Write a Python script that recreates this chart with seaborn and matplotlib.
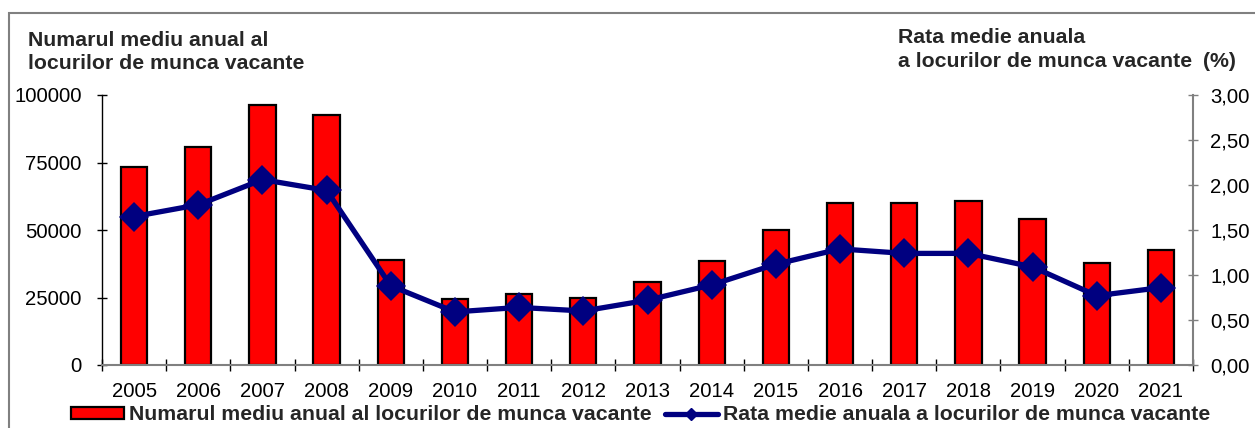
import matplotlib
matplotlib.use("Agg")
import matplotlib.pyplot as plt
from matplotlib.patches import Patch, Rectangle
from matplotlib.lines import Line2D
from matplotlib.ticker import FuncFormatter, FixedLocator
import seaborn as sns

years = [str(y) for y in range(2005, 2022)]
vacancies = [73500, 80700, 96300, 92500, 38800, 24300, 26300, 24900, 30700,
             38600, 50000, 59900, 60000, 60700, 54000, 37800, 42700]
rates = [1.65, 1.78, 2.06, 1.94, 0.88, 0.59, 0.64, 0.60, 0.72,
         0.89, 1.12, 1.29, 1.24, 1.24, 1.09, 0.77, 0.86]

bar_label = "Numarul mediu anual al locurilor de munca vacante"
line_label = "Rata medie anuala a locurilor de munca vacante"

sns.set_theme(style="white")
plt.rcParams['font.family'] = ['Liberation Sans', 'DejaVu Sans']

W, H = 1255, 428
TICK_FS = 14.6
BOLD_FS = 15.3

fig = plt.figure(figsize=(W / 100, H / 100), dpi=100)
ax = fig.add_axes([102 / W, 1 - 365 / H, (1193 - 102) / W, (365 - 95) / H])
ax2 = ax.twinx()

# bars (left axis)
sns.barplot(x=years, y=vacancies, color='#FF0000', saturation=1, width=0.41,
            edgecolor='black', linewidth=1.6, ax=ax)

# line (right axis)
sns.pointplot(x=years, y=rates, color='#000080', markers='D', ax=ax2,
              markersize=15, linewidth=3.8, markeredgewidth=0)

ax.set_ylim(0, 100000)
ax2.set_ylim(0, 3)
ax.set_xlim(-0.5, len(years) - 0.5)
ax.set_yticks([0, 25000, 50000, 75000, 100000])
ax.yaxis.set_major_formatter(FuncFormatter(lambda v, p: f"{int(v)}"))
ax2.set_yticks([0, 0.5, 1, 1.5, 2, 2.5, 3])
ax2.yaxis.set_major_formatter(FuncFormatter(lambda v, p: f"{v:.2f}".replace('.', ',')))

for a in (ax, ax2):
    a.set_xlabel('')
    a.set_ylabel('')
    a.spines['top'].set_visible(False)
    a.grid(False)

# spines
ax.spines['left'].set_color('black')
ax.spines['left'].set_linewidth(1.0)
ax.spines['right'].set_visible(False)
ax.spines['bottom'].set_color('#808080')
ax.spines['bottom'].set_linewidth(1.5)
ax2.spines['left'].set_visible(False)
ax2.spines['bottom'].set_visible(False)
ax2.spines['right'].set_color('#808080')
ax2.spines['right'].set_linewidth(1.5)

# ticks
ax.tick_params(axis='y', direction='inout', length=7, width=1, color='black',
               labelsize=TICK_FS, pad=11, left=True, labelcolor='black')
ax2.tick_params(axis='y', direction='inout', length=7, width=1, color='#808080',
                labelsize=TICK_FS, pad=9, right=True, labelcolor='black')
ax.xaxis.set_minor_locator(FixedLocator([i - 0.5 for i in range(len(years) + 1)]))
ax.tick_params(axis='x', which='major', length=0, labelsize=TICK_FS, pad=12,
               labelcolor='black', bottom=True)
ax.tick_params(axis='x', which='minor', direction='inout', length=9, width=1,
               color='black', bottom=True)

# axis titles
fig.text(28 / W, 1 - 46 / H, "Numarul mediu anual al", fontsize=BOLD_FS,
         fontweight='bold', va='baseline', ha='left')
fig.text(28 / W, 1 - 69 / H, "locurilor de munca vacante", fontsize=BOLD_FS,
         fontweight='bold', va='baseline', ha='left')
fig.text(898 / W, 1 - 43 / H, "Rata medie anuala", fontsize=BOLD_FS,
         fontweight='bold', va='baseline', ha='left')
fig.text(898 / W, 1 - 67 / H, "a locurilor de munca vacante", fontsize=BOLD_FS,
         fontweight='bold', va='baseline', ha='left')
fig.text(1203 / W, 1 - 67 / H, "(%)", fontsize=BOLD_FS,
         fontweight='bold', va='baseline', ha='left')

# legend
handles = [Patch(facecolor='#FF0000', edgecolor='black', linewidth=1.6),
           Line2D([], [], color='#000080', lw=3.8, marker='D', markersize=6)]
fig.legend(handles, [bar_label, line_label], loc='center left',
           bbox_to_anchor=(71 / W, 1 - 415 / H), ncol=2, frameon=False,
           prop={'weight': 'bold', 'size': BOLD_FS}, borderpad=0, borderaxespad=0,
           handlelength=2.5, handleheight=0.55, handletextpad=0.25,
           columnspacing=0.6)

# outer border
fig.patches.append(Rectangle((9 / W, -0.1), 1.2, 1 - 13 / H + 0.1,
                             transform=fig.transFigure, fill=False,
                             edgecolor='#808080', linewidth=1.5))

fig.savefig('out.png', dpi=100)
